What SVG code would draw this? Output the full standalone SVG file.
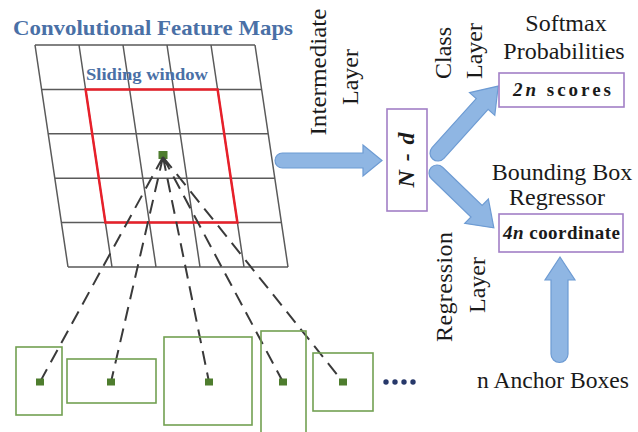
<svg xmlns="http://www.w3.org/2000/svg" width="638" height="432" viewBox="0 0 638 432">
<style>
.grid{stroke:#5a5a5a;stroke-width:1.5;fill:none}
.win{stroke:#e8202a;stroke-width:2.5;fill:none}
.anc{stroke:#72a052;stroke-width:1.6;fill:none}
.dot{fill:#4e7d2e}
.dash{stroke:#3a3a3a;stroke-width:2;stroke-dasharray:14 8;fill:none}
.arr{fill:#8fb6e3;stroke:#6d9bd3;stroke-width:1.2}
.box{fill:#fff;stroke:#a27fc6;stroke-width:1.6}
.t{fill:#1a1a1a}
.ttl{font-weight:bold;fill:#4a70a6}
.bx{font-weight:bold;fill:#1a1a1a}
</style>
<rect width="638" height="432" fill="#fff"/>
<g font-family="Liberation Serif, DejaVu Serif, serif">
<g id="feature-map">
<text class="ttl" x="13" y="35" font-size="22" textLength="280" lengthAdjust="spacingAndGlyphs">Convolutional Feature Maps</text>
<path class="grid" d="M35 45 L255 45 M41.6 89.4 L261.6 89.4 M48.2 133.8 L268.2 133.8 M54.8 178.2 L274.8 178.2 M61.4 222.6 L281.4 222.6 M68 267 L288 267 M35 45 L68 267 M79 45 L112 267 M123 45 L156 267 M167 45 L200 267 M211 45 L244 267 M255 45 L288 267"/>
<polygon class="win" points="85.6,89.4 217.6,89.4 237.4,222.6 105.4,222.6"/>
<text class="ttl" x="86" y="80" font-size="17" textLength="122" lengthAdjust="spacingAndGlyphs">Sliding window</text>
<rect class="dot" x="158.5" y="151" width="9" height="8"/>
</g>
<g id="connectors">
<path class="dash" d="M163 157 L40 382 M163 157 L111 382 M163 157 L209 382 M163 157 L283 382 M163 157 L343 382"/>
<path class="arr" d="M282.5 153 L363 153 L363 145 L382 160.5 L363 176 L363 168 L282.5 168 A7.5 7.5 0 0 1 282.5 153 Z"/>
<path class="arr" transform="translate(438,153) rotate(-48)" d="M0 -8 L66 -8 L66 -17 L90 0 L66 17 L66 8 L0 8 A8 8 0 0 1 0 -8 Z"/>
<path class="arr" transform="translate(437,173) rotate(44)" d="M0 -8 L55 -8 L55 -17 L79 0 L55 17 L55 8 L0 8 A8 8 0 0 1 0 -8 Z"/>
<path class="arr" d="M551 354 L551 280 L545 280 L560 257 L575 280 L568 280 L568 354 A8.5 8.5 0 0 1 551 354 Z"/>
</g>
<g id="anchor-1"><rect class="anc" x="16" y="347" width="46" height="68"/><rect class="dot" x="36" y="378.5" width="8" height="7"/></g>
<g id="anchor-2"><rect class="anc" x="67" y="359" width="89" height="44"/><rect class="dot" x="107" y="378.5" width="8" height="7"/></g>
<g id="anchor-3"><rect class="anc" x="164" y="337" width="88" height="88"/><rect class="dot" x="205" y="378.5" width="8" height="7"/></g>
<g id="anchor-4"><rect class="anc" x="261" y="331" width="45" height="110"/><rect class="dot" x="279" y="378.5" width="8" height="7"/></g>
<g id="anchor-5"><rect class="anc" x="313" y="353" width="60" height="58"/><rect class="dot" x="339" y="378.5" width="8" height="7"/></g>
<g id="ellipsis" fill="#27386a"><circle cx="386" cy="382" r="2.7"/><circle cx="395" cy="382" r="2.7"/><circle cx="404" cy="382" r="2.7"/><circle cx="413" cy="382" r="2.7"/></g>
<g id="intermediate-label">
<text class="t" font-size="24" text-anchor="middle" transform="translate(326,72) rotate(-90)" textLength="127" lengthAdjust="spacingAndGlyphs">Intermediate</text>
<text class="t" font-size="24" text-anchor="middle" transform="translate(358,77) rotate(-90)">Layer</text>
</g>
<g id="nd">
<rect class="box" x="387" y="109" width="40" height="102"/>
<text class="bx" font-style="italic" font-size="24" text-anchor="middle" transform="translate(414,160) rotate(-90)" textLength="55" lengthAdjust="spacing">N - d</text>
</g>
<g id="class-label">
<text class="t" font-size="24" text-anchor="middle" transform="translate(451,53) rotate(-90)">Class</text>
<text class="t" font-size="24" text-anchor="middle" transform="translate(482,51) rotate(-90)">Layer</text>
</g>
<g id="softmax">
<text class="t" font-size="24" text-anchor="middle" x="566" y="31">Softmax</text>
<text class="t" font-size="24" text-anchor="middle" x="564" y="59">Probabilities</text>
<rect class="box" x="499" y="73" width="125" height="34"/>
<text class="bx" font-size="19" x="513" y="96" textLength="98" lengthAdjust="spacing"><tspan font-style="italic">2n</tspan> scores</text>
</g>
<g id="bbox">
<text class="t" font-size="24" text-anchor="middle" x="562" y="180">Bounding Box</text>
<text class="t" font-size="24" text-anchor="middle" x="557" y="205">Regressor</text>
<rect class="box" x="499" y="214" width="124" height="38"/>
<text class="bx" font-size="19" x="503" y="239" textLength="117" lengthAdjust="spacing"><tspan font-style="italic">4n</tspan> coordinate</text>
</g>
<g id="regression-label">
<text class="t" font-size="24" text-anchor="middle" transform="translate(452,287) rotate(-90)" textLength="110" lengthAdjust="spacing">Regression</text>
<text class="t" font-size="24" text-anchor="middle" transform="translate(485,285) rotate(-90)">Layer</text>
</g>
<g id="anchors-label">
<text class="t" font-size="24" x="477" y="388" textLength="152" lengthAdjust="spacingAndGlyphs">n Anchor Boxes</text>
</g>
</g>
</svg>
